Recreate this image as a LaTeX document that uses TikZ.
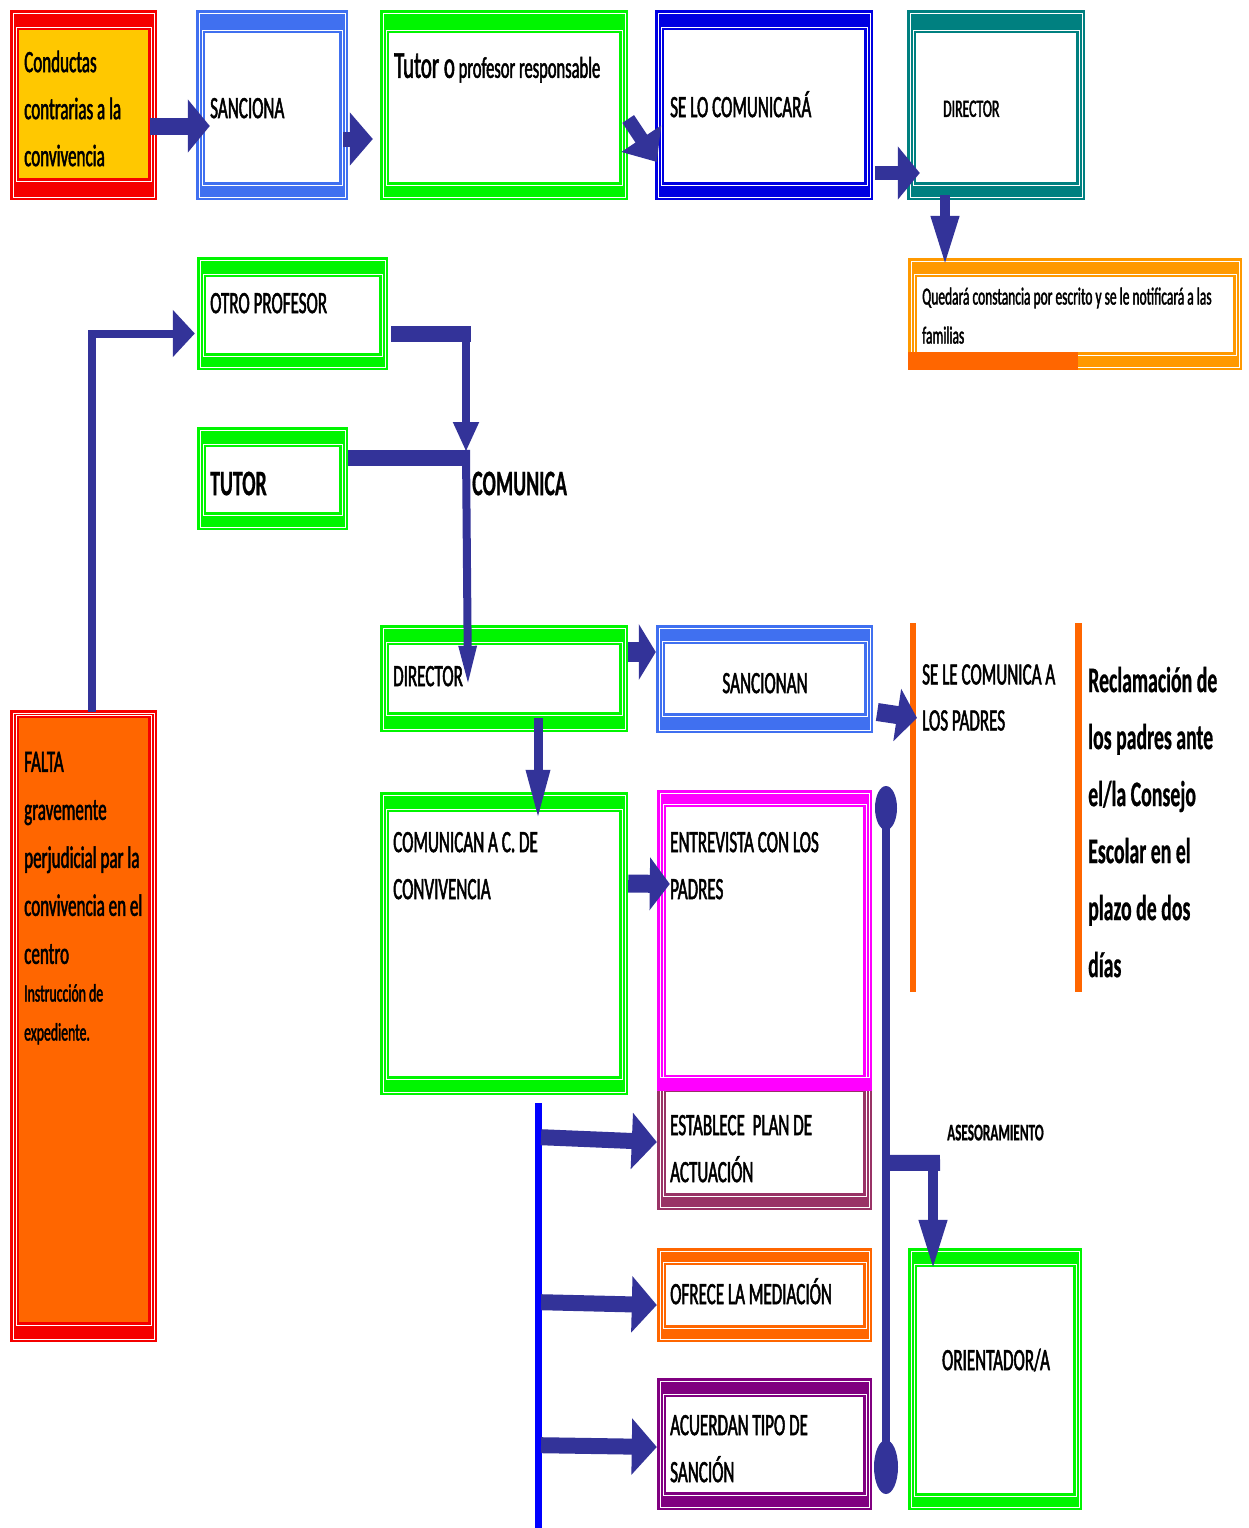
\documentclass[tikz,border=0pt]{standalone}
\usepackage{fontspec}
\setmainfont{Carlito}[FakeStretch=0.55, UprightFeatures={FakeBold=1.6}, BoldFeatures={FakeBold=0.6}]
\usetikzlibrary{arrows.meta,calc,fit}
\definecolor{ac}{RGB}{51,51,153}
\definecolor{cred}{RGB}{245,0,0}
\definecolor{cyel}{RGB}{255,200,0}
\definecolor{cblue}{RGB}{64,112,240}
\definecolor{cgreen}{RGB}{0,245,0}
\definecolor{cdblue}{RGB}{0,0,225}
\definecolor{cteal}{RGB}{0,128,128}
\definecolor{camber}{RGB}{255,153,0}
\definecolor{corange}{RGB}{255,102,0}
\definecolor{cmag}{RGB}{255,0,255}
\definecolor{cmaroon}{RGB}{153,51,102}
\definecolor{cpurp}{RGB}{128,0,128}
\definecolor{cpblue}{RGB}{0,0,255}
\newcommand\fs[2]{\fontsize{#1}{#2}\selectfont}
% name, colour, fill, x1, y1, x2, y2, top inset, bottom inset
\newcommand\dbx[9]{%
  \fill[#2] (#4,#5) rectangle (#6,#7);
  \draw[white, line width=0.8] ({#4+3},{#5+3}) rectangle ({#6-3},{#7-3});
  \fill[#3] ({#4+9},{#5+#8}) rectangle ({#6-9},{#7-#9});
  \draw[white, line width=0.8] ({#4+6},{#5+#8-3}) rectangle ({#6-6},{#7-#9+3});
  \node[fit={(#4,#5) (#6,#7)}, inner sep=0pt] (#1) {};
}
\begin{document}
\begin{tikzpicture}[x=1pt,y=-1pt,
  txt/.style={anchor=north west,inner sep=0pt,align=left,text=black,font=\fs{31}{47}},
  ctxt/.style={anchor=north,inner sep=0pt,align=center,text=black,font=\fs{31}{47}},
  blk/.style={draw=ac,line width=#1}]
\fill[white] (0,0) rectangle (1248,1528);
\useasboundingbox (0,0) rectangle (1248,1528);

% ---------- boxes ----------
\dbx{conductas}{cred}{cyel}{10}{10}{157}{200}{20}{22}
\dbx{sanciona}{cblue}{white}{196}{10}{348}{200}{23}{18}
\dbx{tutor}{cgreen}{white}{380}{10}{628}{200}{23}{18}
\dbx{selo}{cdblue}{white}{655}{10}{873}{200}{20}{18}
\dbx{director}{cteal}{white}{907}{10}{1085}{200}{23}{18}
\dbx{quedara}{camber}{white}{908}{258}{1242}{370}{19}{18}
\fill[corange] (908,352) rectangle (1078,370);
\dbx{otro}{cgreen}{white}{197}{257}{388}{370}{20}{17}
\dbx{tutorb}{cgreen}{white}{197}{427}{348}{530}{20}{18}
\dbx{dir2}{cgreen}{white}{380}{625}{628}{732}{20}{20}
\dbx{sancionan}{cblue}{white}{656}{625}{873}{733}{19}{20}
\dbx{comunican}{cgreen}{white}{380}{792}{628}{1095}{20}{19}
\dbx{entrevista}{cmag}{white}{657}{790}{872}{1080}{17}{5}
\dbx{establece}{cmaroon}{white}{657}{1078}{872}{1210}{14}{17}
\fill[cmag] (657,1078) rectangle (872,1091);
\dbx{ofrece}{corange}{white}{657}{1248}{872}{1342}{17}{17}
\dbx{acuerdan}{cpurp}{white}{657}{1378}{872}{1510}{19}{18}
\dbx{orientador}{cgreen}{white}{908}{1248}{1082}{1510}{19}{17}
\dbx{falta}{cred}{corange}{10}{710}{157}{1342}{8}{20}

% orange bars
\fill[corange] (910,623) rectangle (916,992);
\fill[corange] (1075,623) rectangle (1082,992);

% ---------- connectors ----------
\draw[blk=17,-{Triangle[length=22pt,width=52pt]}] ($(conductas.east)+(-7,21)$) -- ($(sanciona.west)+(14,21)$);
\draw[blk=15,-{Triangle[length=23pt,width=52pt]}] ($(sanciona.east)+(-5,34)$) -- ($(tutor.west)+(-7,34)$);
\draw[blk=14,-{Triangle[length=28pt,width=46pt]}] ($(tutor.east)+(0,14)$) -- ($(selo.west)+(2,57)$);
\draw[blk=14,-{Triangle[length=22pt,width=52pt]}] ($(selo.east)+(2,68)$) -- ($(director.west)+(13,68)$);
\draw[blk=10,-{Triangle[length=50pt,width=26pt]}] ($(director.south)+(-51,-5)$) -- ($(quedara.north)+(-130,8)$);

\draw[blk=8,line join=miter,-{Triangle[length=22pt,width=46pt]}] ($(falta.north)+(8.5,2)$) |- ($(otro.west)+(-2,20)$);

\coordinate (jt) at (466,334);
\coordinate (jc) at (466,458);
\draw[blk=16] ($(otro.east)+(3,20.5)$) -- ($(jt)+(5,0)$);
\draw[blk=8,-{Triangle[length=30pt,width=24pt]}] ($(jt)+(0,-8)$) -- ($(jc)+(0,-6)$);
\draw[blk=16] ($(tutorb.east)+(0,-20.5)$) -- ($(jc)+(4,0)$);
\draw[blk=8,-{Triangle[length=42pt,width=16pt]}] ($(jc)+(0,-8)$) -- ($(dir2.north)+(-36,63)$);

\draw[blk=20,-{Triangle[length=17pt,width=55pt]}] ($(dir2.east)+(0,-26.5)$) -- ($(sancionan.west)+(0,-27)$);
\coordinate (padres) at (917,718);
\draw[blk=18,-{Triangle[length=20pt,width=52pt]}] ($(sancionan.east)+(4,33)$) -- (padres);
\draw[blk=9,-{Triangle[length=50pt,width=22pt]}] ($(dir2.south)+(34,-14)$) -- ($(comunican.north)+(34,28)$);
\draw[blk=18,-{Triangle[length=20pt,width=52pt]}] ($(comunican.east)+(0,-60)$) -- ($(entrevista.west)+(13,-51)$);

\coordinate (bt) at ($(comunican.south)+(34,8)$);
\coordinate (bb) at (538,1528);
\draw[cpblue, line width=7] (bt) -- (bb);
\draw[blk=16,-{Triangle[length=25pt,width=55pt]}] ($(bt)+(3,34)$) -- ($(establece.west)+(0,-2)$);
\draw[blk=16,-{Triangle[length=25pt,width=55pt]}] ($(bt)+(3,199)$) -- ($(ofrece.west)+(0,10)$);
\draw[blk=16,-{Triangle[length=25pt,width=55pt]}] ($(bt)+(3,342)$) -- ($(acuerdan.west)+(0,3)$);

\coordinate (kt) at (886,808);
\coordinate (kb) at (886,1467);
\draw[ac, line width=8] (kt) -- (kb);
\fill[ac] (kt) ellipse [x radius=11pt, y radius=22pt];
\fill[ac] (kb) ellipse [x radius=12pt, y radius=27pt];
\coordinate (ka) at (886,1163);
\draw[blk=16] (ka) -- ($(orientador.north)+(-55,-85)$);
\draw[blk=10,-{Triangle[length=50pt,width=26pt]}] ($(orientador.north)+(-62,-92)$) -- ($(orientador.north)+(-62,22)$);

% ---------- texts ----------
\node[txt] (t1) at (24,39) {\strut Conductas\\contrarias a la\\convivencia};
\node[txt] (t2) at (210,85) {\strut SANCIONA};
\node[txt, font=\fs{30}{48}] (t3) at (394,44) {\strut{\fs{38}{48}Tutor o} profesor responsable};
\node[txt] (t4) at (670,84) {\strut SE LO COMUNICARÁ};
\node[txt, font=\fs{25}{38}] (t5) at (943,90) {\strut DIRECTOR};
\node[txt, font=\fs{24.5}{39}] (t6) at (922,277) {\strut Quedará constancia por escrito y se le notificará a las\\familias};
\node[txt] (t7) at (210,280) {\strut OTRO PROFESOR};
\node[txt, font=\fs{36}{50}\bfseries] (t8) at (210,460) {\strut TUTOR};
\node[txt, font=\fs{36}{50}\bfseries] (t9) at (472,460) {\strut COMUNICA};
\node[txt] (t10) at (393,653) {\strut DIRECTOR};
\node[ctxt] (t11) at (765,660) {\strut SANCIONAN};
\node[txt, font=\fs{31}{46}] (t12) at (922,652) {\strut SE LE COMUNICA A\\LOS PADRES};
\node[txt, font=\fs{36}{57}\bfseries] (t13) at (1088,652) {\strut Reclamación de\\los padres ante\\el/la Consejo\\Escolar en el\\plazo de dos\\días};
\node[txt] (t14) at (393,819) {\strut COMUNICAN A C. DE\\CONVIVENCIA};
\node[txt] (t15) at (670,819) {\strut ENTREVISTA CON LOS\\PADRES};
\node[txt] (t16) at (670,1102) {\strut ESTABLECE\ \ PLAN DE\\ACTUACIÓN};
\node[txt] (t17) at (670,1271) {\strut OFRECE LA MEDIACIÓN};
\node[txt] (t18) at (670,1402) {\strut ACUERDAN TIPO DE\\SANCIÓN};
\node[ctxt] (t19) at (996,1337) {\strut ORIENTADOR/A};
\node[txt, font=\fs{24}{36}\bfseries] (t20) at (947,1115) {\strut ASESORAMIENTO};
\node[txt, font=\fs{31}{48}] (t21) at (24,738) {\strut FALTA\\gravemente\\perjudicial par la\\convivencia en el\\centro};
\node[txt, font=\fs{25}{39}] (t22) at (24,974) {\strut Instrucción de\\expediente.};
\end{tikzpicture}
\end{document}
